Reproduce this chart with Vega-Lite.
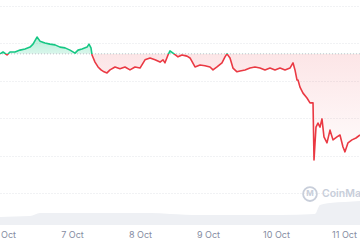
{
  "$schema": "https://vega.github.io/schema/vega-lite/v6.json",
  "width": 360,
  "height": 225,
  "padding": {"left": 0, "top": 0, "right": 0, "bottom": 15},
  "autosize": {"type": "none"},
  "background": "white",
  "config": {"view": {"stroke": null}, "font": "Inter"},
  "datasets": {
    "one": [{}],
    "price": [
      {"t": "2025-10-05T22:35", "p": 13.72},
      {"t": "2025-10-05T23:39", "p": 13.77},
      {"t": "2025-10-06T01:04", "p": 13.69},
      {"t": "2025-10-06T02:07", "p": 13.77},
      {"t": "2025-10-06T03:53", "p": 13.77},
      {"t": "2025-10-06T05:39", "p": 13.82},
      {"t": "2025-10-06T07:25", "p": 13.85},
      {"t": "2025-10-06T09:11", "p": 13.90},
      {"t": "2025-10-06T10:14", "p": 13.98},
      {"t": "2025-10-06T11:39", "p": 14.17},
      {"t": "2025-10-06T12:42", "p": 14.06},
      {"t": "2025-10-06T14:28", "p": 14.01},
      {"t": "2025-10-06T16:14", "p": 13.98},
      {"t": "2025-10-06T18:00", "p": 13.96},
      {"t": "2025-10-06T19:46", "p": 13.90},
      {"t": "2025-10-06T21:32", "p": 13.88},
      {"t": "2025-10-06T23:18", "p": 13.82},
      {"t": "2025-10-07T01:04", "p": 13.74},
      {"t": "2025-10-07T02:07", "p": 13.82},
      {"t": "2025-10-07T03:32", "p": 13.85},
      {"t": "2025-10-07T05:18", "p": 13.90},
      {"t": "2025-10-07T06:00", "p": 13.98},
      {"t": "2025-10-07T06:42", "p": 13.88},
      {"t": "2025-10-07T07:04", "p": 13.69},
      {"t": "2025-10-07T08:07", "p": 13.50},
      {"t": "2025-10-07T09:11", "p": 13.37},
      {"t": "2025-10-07T10:14", "p": 13.29},
      {"t": "2025-10-07T11:18", "p": 13.24},
      {"t": "2025-10-07T12:21", "p": 13.21},
      {"t": "2025-10-07T13:25", "p": 13.29},
      {"t": "2025-10-07T15:11", "p": 13.37},
      {"t": "2025-10-07T16:56", "p": 13.32},
      {"t": "2025-10-07T18:42", "p": 13.37},
      {"t": "2025-10-07T20:28", "p": 13.29},
      {"t": "2025-10-07T22:14", "p": 13.37},
      {"t": "2025-10-08T00:00", "p": 13.34},
      {"t": "2025-10-08T01:46", "p": 13.56},
      {"t": "2025-10-08T03:32", "p": 13.61},
      {"t": "2025-10-08T05:18", "p": 13.56},
      {"t": "2025-10-08T07:04", "p": 13.50},
      {"t": "2025-10-08T08:07", "p": 13.56},
      {"t": "2025-10-08T08:49", "p": 13.48},
      {"t": "2025-10-08T09:53", "p": 13.69},
      {"t": "2025-10-08T10:35", "p": 13.80},
      {"t": "2025-10-08T11:39", "p": 13.74},
      {"t": "2025-10-08T13:25", "p": 13.64},
      {"t": "2025-10-08T14:49", "p": 13.69},
      {"t": "2025-10-08T16:35", "p": 13.66},
      {"t": "2025-10-08T17:39", "p": 13.61},
      {"t": "2025-10-08T19:25", "p": 13.37},
      {"t": "2025-10-08T21:11", "p": 13.42},
      {"t": "2025-10-08T22:56", "p": 13.40},
      {"t": "2025-10-09T00:42", "p": 13.37},
      {"t": "2025-10-09T01:46", "p": 13.29},
      {"t": "2025-10-09T03:11", "p": 13.37},
      {"t": "2025-10-09T04:56", "p": 13.48},
      {"t": "2025-10-09T06:00", "p": 13.64},
      {"t": "2025-10-09T06:42", "p": 13.72},
      {"t": "2025-10-09T07:46", "p": 13.61},
      {"t": "2025-10-09T08:49", "p": 13.34},
      {"t": "2025-10-09T10:14", "p": 13.24},
      {"t": "2025-10-09T11:18", "p": 13.26},
      {"t": "2025-10-09T13:04", "p": 13.29},
      {"t": "2025-10-09T14:49", "p": 13.34},
      {"t": "2025-10-09T16:35", "p": 13.37},
      {"t": "2025-10-09T18:21", "p": 13.34},
      {"t": "2025-10-09T20:07", "p": 13.29},
      {"t": "2025-10-09T21:53", "p": 13.34},
      {"t": "2025-10-09T23:39", "p": 13.29},
      {"t": "2025-10-10T01:25", "p": 13.34},
      {"t": "2025-10-10T03:11", "p": 13.29},
      {"t": "2025-10-10T04:56", "p": 13.34},
      {"t": "2025-10-10T06:00", "p": 13.48},
      {"t": "2025-10-10T06:42", "p": 13.29},
      {"t": "2025-10-10T07:25", "p": 13.02},
      {"t": "2025-10-10T07:46", "p": 13.02},
      {"t": "2025-10-10T08:28", "p": 12.83},
      {"t": "2025-10-10T09:32", "p": 12.67},
      {"t": "2025-10-10T10:56", "p": 12.54},
      {"t": "2025-10-10T12:00", "p": 12.41},
      {"t": "2025-10-10T13:04", "p": 12.41},
      {"t": "2025-10-10T13:25", "p": 10.88},
      {"t": "2025-10-10T14:07", "p": 11.76},
      {"t": "2025-10-10T14:49", "p": 11.87},
      {"t": "2025-10-10T15:32", "p": 11.76},
      {"t": "2025-10-10T16:14", "p": 11.98},
      {"t": "2025-10-10T16:56", "p": 11.50},
      {"t": "2025-10-10T18:00", "p": 11.34},
      {"t": "2025-10-10T19:04", "p": 11.68},
      {"t": "2025-10-10T20:07", "p": 11.42},
      {"t": "2025-10-10T21:32", "p": 11.50},
      {"t": "2025-10-10T22:35", "p": 11.55},
      {"t": "2025-10-10T23:39", "p": 11.23},
      {"t": "2025-10-11T00:21", "p": 11.10},
      {"t": "2025-10-11T01:25", "p": 11.34},
      {"t": "2025-10-11T02:49", "p": 11.42},
      {"t": "2025-10-11T04:14", "p": 11.47},
      {"t": "2025-10-11T05:39", "p": 11.55}
    ],
    "vol": [
      {"t": "2025-10-05T22:35", "v": 3.6},
      {"t": "2025-10-06T09:11", "v": 4.0},
      {"t": "2025-10-06T12:42", "v": 5.3},
      {"t": "2025-10-07T02:07", "v": 5.3},
      {"t": "2025-10-07T16:56", "v": 5.3},
      {"t": "2025-10-08T03:32", "v": 5.3},
      {"t": "2025-10-08T10:35", "v": 4.9},
      {"t": "2025-10-08T21:11", "v": 4.4},
      {"t": "2025-10-09T11:18", "v": 4.4},
      {"t": "2025-10-10T01:25", "v": 4.4},
      {"t": "2025-10-10T13:45", "v": 4.9},
      {"t": "2025-10-10T15:32", "v": 8.9},
      {"t": "2025-10-10T19:04", "v": 9.8},
      {"t": "2025-10-11T00:21", "v": 10.2},
      {"t": "2025-10-11T05:39", "v": 10.7}
    ]
  },
  "layer": [
    {
      "data": {"name": "vol"},
      "mark": {"type": "area", "color": "#eef0f4", "interpolate": "monotone"},
      "encoding": {
        "x": {"field": "t", "type": "temporal"},
        "y": {"field": "v", "type": "quantitative", "scale": {"domain": [0, 100]}, "axis": null}
      }
    },
    {
      "layer": [
        {
          "data": {"name": "price"},
          "mark": {
            "type": "area",
            "line": false,
            "fill": {
              "gradient": "linear", "x1": 0, "y1": 0, "x2": 0, "y2": 1,
              "stops": [
                {"offset": 0, "color": "rgba(22,199,132,0.32)"},
                {"offset": 0.1368, "color": "rgba(22,199,132,0.16)"},
                {"offset": 0.1368, "color": "rgba(234,57,67,0.13)"},
                {"offset": 1, "color": "rgba(234,57,67,0.01)"}
              ]
            }
          },
          "encoding": {
            "x": {
              "field": "t", "type": "temporal", "title": null,
              "scale": {"domain": ["2025-10-05T22:35", "2025-10-11T05:39"]},
              "axis": {
                "values": [
                  {"year": 2025, "month": 10, "date": 6},
                  {"year": 2025, "month": 10, "date": 7},
                  {"year": 2025, "month": 10, "date": 8},
                  {"year": 2025, "month": 10, "date": 9},
                  {"year": 2025, "month": 10, "date": 10},
                  {"year": 2025, "month": 10, "date": 11}
                ],
                "format": "%-d %b", "labelFontSize": 9, "labelColor": "#858ca2",
                "ticks": false, "domain": false, "grid": false, "labelPadding": 5,
                "labelFlush": false, "labelOverlap": false
              }
            },
            "y": {
              "field": "p", "type": "quantitative",
              "scale": {"domain": [9.144, 15.16], "zero": false, "nice": false},
              "axis": {
                "title": null, "labels": false, "ticks": false, "domain": false, "grid": true,
                "values": [10, 11, 12, 13, 14, 15],
                "gridColor": "#e2e4e9", "gridDash": [1, 2], "gridWidth": 1
              }
            },
            "y2": {"datum": 13.72}
          }
        },
        {
          "data": {"name": "one"},
          "mark": {"type": "rule", "color": "#bcc1c9", "strokeDash": [1, 2], "strokeWidth": 1},
          "encoding": {"y": {"datum": 13.72, "type": "quantitative"}}
        },
        {
          "data": {"name": "price"},
          "mark": {
            "type": "line", "strokeWidth": 1.6, "strokeJoin": "round",
            "stroke": {
              "gradient": "linear", "x1": 0, "y1": 0, "x2": 0, "y2": 1,
              "stops": [
                {"offset": 0, "color": "#16c784"},
                {"offset": 0.1368, "color": "#16c784"},
                {"offset": 0.1368, "color": "#ea3943"},
                {"offset": 1, "color": "#ea3943"}
              ]
            }
          },
          "encoding": {
            "x": {"field": "t", "type": "temporal"},
            "y": {"field": "p", "type": "quantitative"}
          }
        },
        {
          "data": {"name": "one"},
          "mark": {"type": "point", "shape": "circle", "size": 190, "filled": false, "stroke": "#c8ceda", "strokeWidth": 1.8, "opacity": 1},
          "encoding": {
            "x": {"datum": {"year": 2025, "month": 10, "date": 10, "hours": 12}, "type": "temporal"},
            "y": {"datum": 9.97, "type": "quantitative"}
          }
        },
        {
          "data": {"name": "one"},
          "mark": {"type": "text", "text": "M", "fontSize": 8, "fontWeight": "bold", "color": "#c8ceda", "align": "center", "baseline": "middle"},
          "encoding": {
            "x": {"datum": {"year": 2025, "month": 10, "date": 10, "hours": 12}, "type": "temporal"},
            "y": {"datum": 9.97, "type": "quantitative"}
          }
        },
        {
          "data": {"name": "one"},
          "mark": {"type": "text", "text": "CoinMarketCap", "fontSize": 10.5, "fontWeight": 600, "color": "#c8ceda", "align": "left", "baseline": "middle"},
          "encoding": {
            "x": {"datum": {"year": 2025, "month": 10, "date": 10, "hours": 16, "minutes": 14}, "type": "temporal"},
            "y": {"datum": 9.97, "type": "quantitative"}
          }
        }
      ]
    }
  ],
  "resolve": {"scale": {"y": "independent"}}
}
